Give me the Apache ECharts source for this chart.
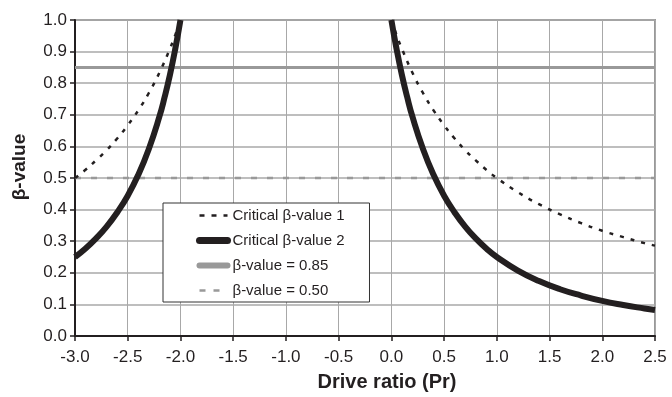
<!DOCTYPE html>
<html>
<head>
<meta charset="utf-8">
<script src="https://cdn.jsdelivr.net/npm/echarts@6/dist/echarts.min.js"></script>
<style>
html,body{margin:0;padding:0;background:#fff;}
#c{width:672px;height:397px;}
</style>
</head>
<body>
<div id="c"></div>
<script>
// Drive ratio (Pr) sample positions and read-off β-values
var critical1Left = [[-3.0,0.500],[-2.9,0.526],[-2.8,0.556],[-2.7,0.588],[-2.6,0.625],[-2.5,0.667],[-2.4,0.714],[-2.3,0.769],[-2.2,0.833],[-2.1,0.909],[-2.05,0.952],[-2.0,1.0]];
var critical1Right = [[0.0,1.0],[0.05,0.952],[0.1,0.909],[0.2,0.833],[0.3,0.769],[0.4,0.714],[0.5,0.667],[0.6,0.625],[0.7,0.588],[0.8,0.556],[0.9,0.526],[1.0,0.500],[1.2,0.455],[1.4,0.417],[1.6,0.385],[1.8,0.357],[2.0,0.333],[2.2,0.313],[2.4,0.294],[2.5,0.286]];
var critical2Left = [[-3.0,0.250],[-2.9,0.277],[-2.8,0.309],[-2.7,0.346],[-2.6,0.391],[-2.5,0.444],[-2.4,0.510],[-2.3,0.592],[-2.2,0.694],[-2.15,0.756],[-2.1,0.826],[-2.05,0.907],[-2.0,1.0]];
var critical2Right = [[0.0,1.0],[0.05,0.907],[0.1,0.826],[0.15,0.756],[0.2,0.694],[0.3,0.592],[0.4,0.510],[0.5,0.444],[0.6,0.391],[0.7,0.346],[0.8,0.309],[0.9,0.277],[1.0,0.250],[1.2,0.207],[1.4,0.174],[1.6,0.148],[1.8,0.128],[2.0,0.111],[2.2,0.098],[2.4,0.087],[2.5,0.082]];
var line085 = [[-3.0,0.85],[2.5,0.85]];
var line050 = [[-3.0,0.50],[2.5,0.50]];
var seriesNames = ['Critical β-value 1','Critical β-value 2','β-value = 0.85','β-value = 0.50'];
var xTicks = {min:-3.0, max:2.5, step:0.5};
var yTicks = {min:0.0, max:1.0, step:0.1};

function joinBranches(a, b){ return a.concat([[-1.0, null]]).concat(b); }

var font = 'Liberation Sans';
var chart = echarts.init(document.getElementById('c'));
chart.setOption({
  animation:false,
  backgroundColor:'#fff',
  grid:{left:75,right:17,top:20,bottom:57,show:true,borderColor:'#999',borderWidth:2,backgroundColor:'transparent'},
  xAxis:{
    type:'value',min:xTicks.min,max:xTicks.max,interval:xTicks.step,
    name:'Drive ratio (Pr)',nameLocation:'middle',nameGap:36,
    nameTextStyle:{fontFamily:font,fontSize:20,fontWeight:'bold',color:'#231f20',padding:[0,0,0,44]},
    axisLine:{show:true,onZero:false,lineStyle:{color:'#231f20',width:2}},
    axisTick:{show:true,length:5,lineStyle:{color:'#231f20',width:1.5}},
    axisLabel:{fontFamily:font,fontSize:17,color:'#231f20',margin:13,formatter:function(v){return v.toFixed(1);}},
    splitLine:{show:true,lineStyle:{color:'#a8a8a8',width:1}}
  },
  yAxis:{
    type:'value',min:yTicks.min,max:yTicks.max,interval:yTicks.step,
    name:'β-value',nameLocation:'middle',nameGap:46,
    nameTextStyle:{fontFamily:font,fontSize:19,fontWeight:'bold',color:'#231f20',padding:[0,0,0,22]},
    axisLine:{show:true,onZero:false,lineStyle:{color:'#231f20',width:2}},
    axisTick:{show:true,length:5,lineStyle:{color:'#231f20',width:1.5}},
    axisLabel:{fontFamily:font,fontSize:17,color:'#231f20',margin:8,formatter:function(v){return v.toFixed(1);}},
    splitLine:{show:true,lineStyle:{color:'#a8a8a8',width:1.5}}
  },
  legend:{
    orient:'vertical',left:163,top:203,
    backgroundColor:'#fff',borderColor:'#333',borderWidth:1,borderRadius:0,
    padding:[5,25,4,33],itemGap:10,itemWidth:28,itemHeight:14,
    textStyle:{fontFamily:font,fontSize:15,color:'#231f20'},
    itemStyle:{opacity:0},
    data:[
      {name:seriesNames[0],lineStyle:{width:2.5,type:[5,7],color:'#231f20'}},
      {name:seriesNames[1],lineStyle:{width:7,color:'#231f20',cap:'round'}},
      {name:seriesNames[2],lineStyle:{width:6,color:'#999',cap:'round'}},
      {name:seriesNames[3],lineStyle:{width:2.5,type:[6,8],color:'#999'}}
    ]
  },
  series:[
    {name:seriesNames[2],type:'line',data:line085,symbol:'none',z:3,
     lineStyle:{color:'#999',width:3},itemStyle:{color:'#999'}},
    {name:seriesNames[3],type:'line',data:line050,symbol:'none',z:3,
     lineStyle:{color:'#999',width:2.5,type:[6,10]},itemStyle:{color:'#999'}},
    {name:seriesNames[0],type:'line',data:joinBranches(critical1Left,critical1Right),symbol:'none',smooth:true,connectNulls:false,z:4,
     lineStyle:{color:'#231f20',width:2.5,type:[4,7]},itemStyle:{color:'#231f20'}},
    {name:seriesNames[1],type:'line',data:joinBranches(critical2Left,critical2Right),symbol:'none',smooth:true,connectNulls:false,z:5,
     lineStyle:{color:'#231f20',width:6},itemStyle:{color:'#231f20'}}
  ]
});
</script>
</body>
</html>
